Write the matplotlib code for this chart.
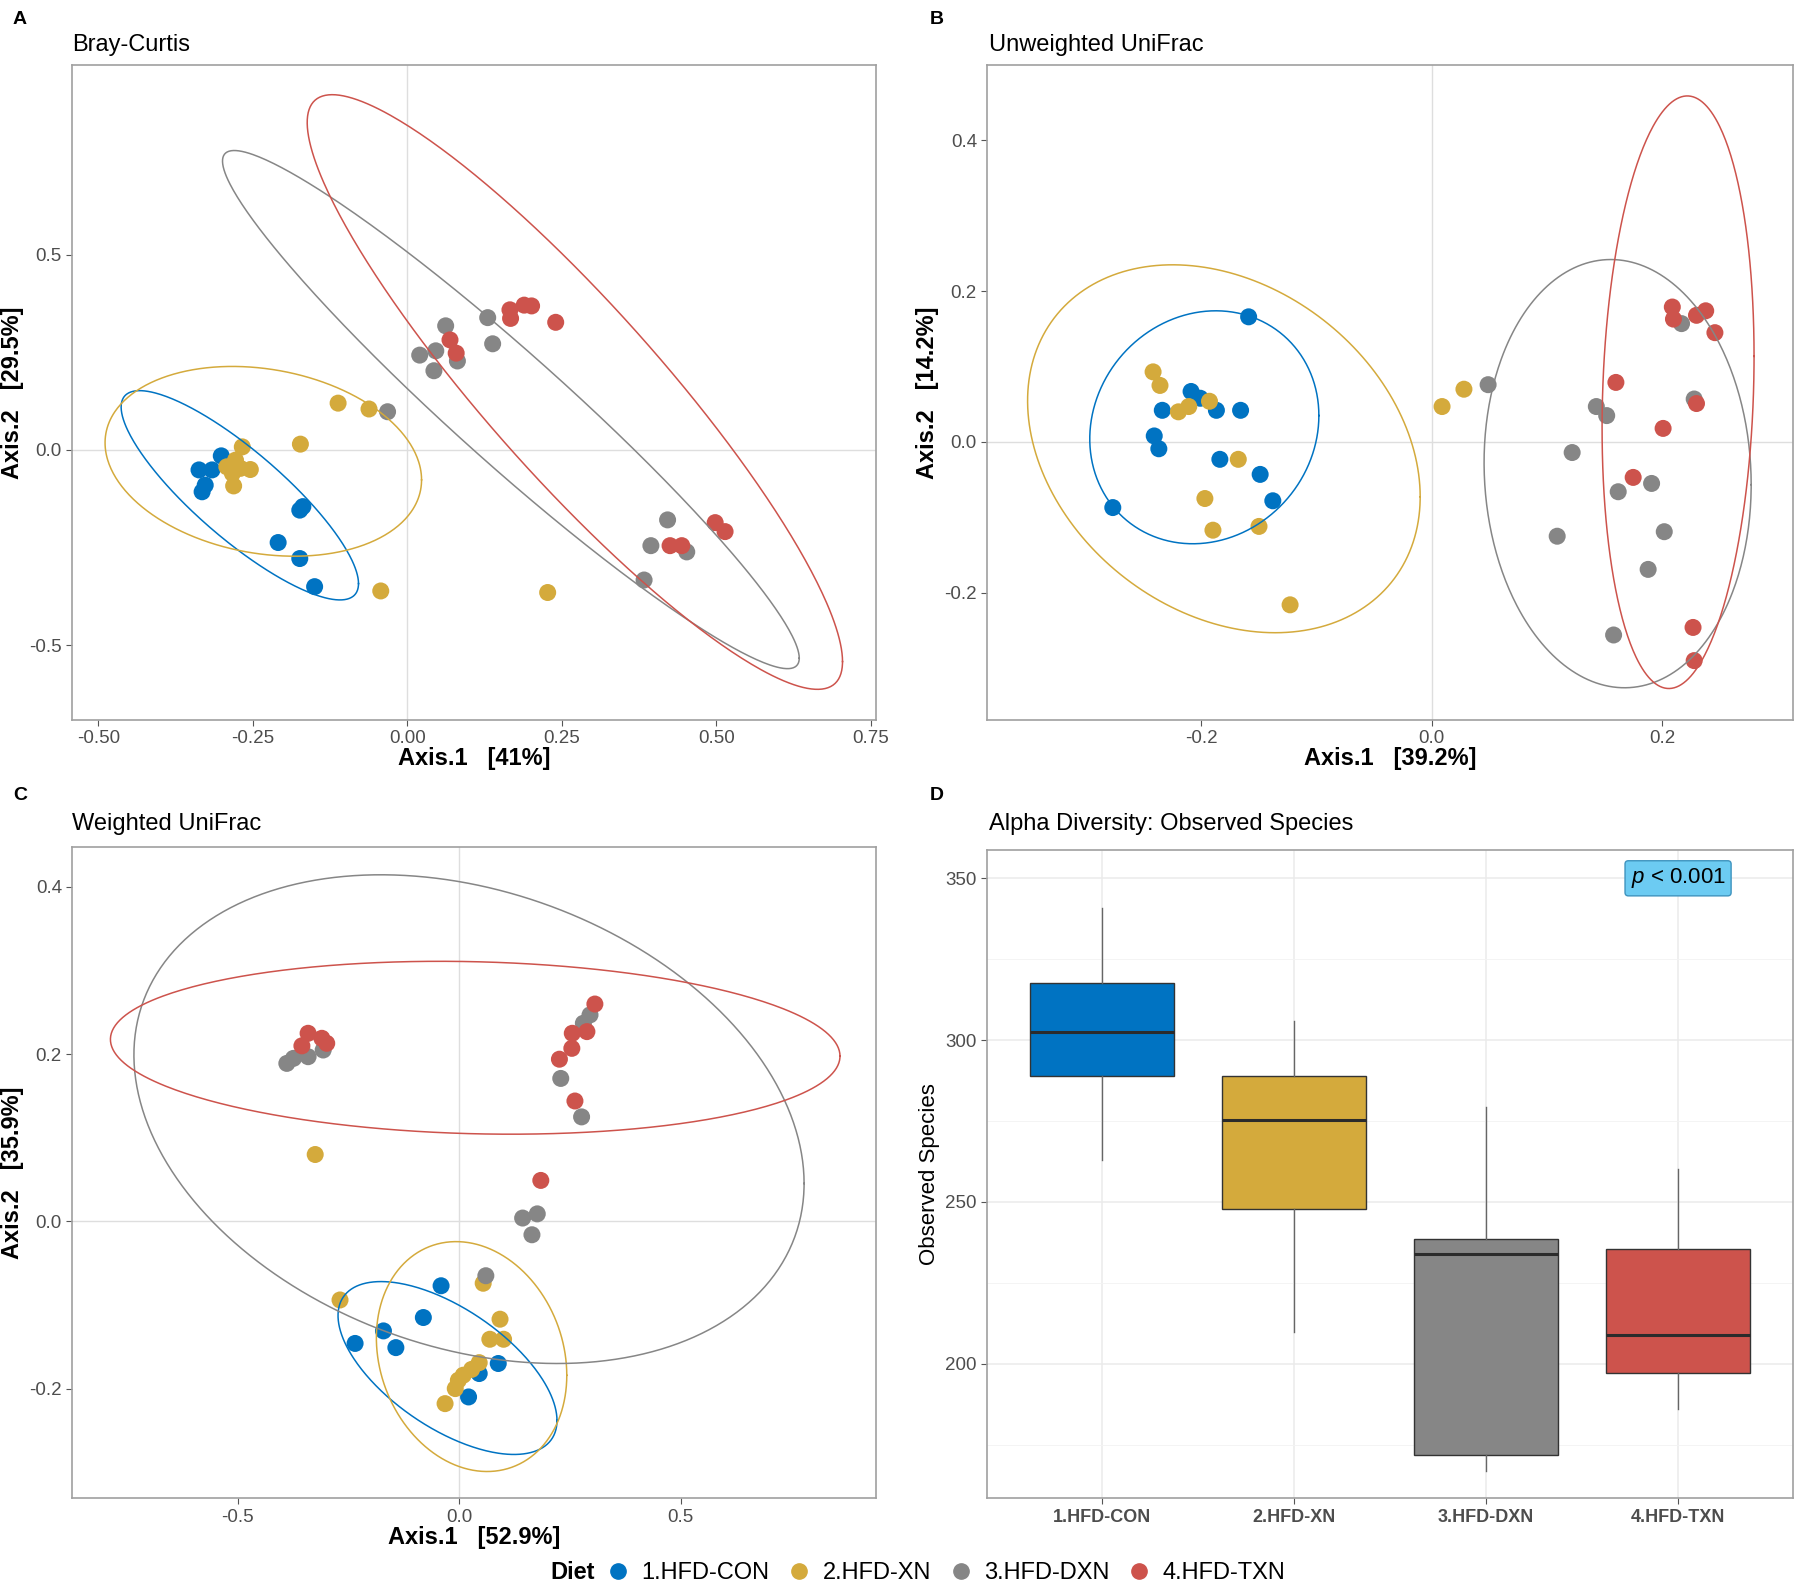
import numpy as np
import matplotlib.pyplot as plt
from matplotlib.lines import Line2D

plt.rcParams['font.family'] = ['Liberation Sans', 'DejaVu Sans']
plt.rcParams['axes.unicode_minus'] = False
plt.rcParams['mathtext.fontset'] = 'custom'
plt.rcParams['mathtext.it'] = 'Liberation Sans:italic'
plt.rcParams['mathtext.rm'] = 'Liberation Sans'

groups = ['1.HFD-CON', '2.HFD-XN', '3.HFD-DXN', '4.HFD-TXN']
colors = ['#0073C2', '#D4AA3C', '#868686', '#CD534C']

# --- A: Bray-Curtis PCoA ---
bc_x = [
    [-0.301, -0.337, -0.316, -0.327, -0.332, -0.174, -0.169, -0.209, -0.174, -0.150],
    [-0.112, -0.062, -0.173, -0.043, 0.227, -0.267, -0.278, -0.292, -0.270, -0.254, -0.281, -0.283],
    [-0.032, 0.062, 0.020, 0.046, 0.043, 0.081, 0.130, 0.138, 0.421, 0.394, 0.452, 0.383],
    [0.069, 0.079, 0.166, 0.167, 0.189, 0.201, 0.240, 0.425, 0.444, 0.498, 0.514],
]
bc_y = [
    [-0.015, -0.051, -0.051, -0.090, -0.107, -0.154, -0.145, -0.237, -0.278, -0.350],
    [0.120, 0.105, 0.015, -0.361, -0.365, 0.008, -0.026, -0.043, -0.047, -0.050, -0.092, -0.060],
    [0.098, 0.318, 0.243, 0.254, 0.203, 0.228, 0.339, 0.272, -0.179, -0.245, -0.261, -0.333],
    [0.282, 0.248, 0.359, 0.337, 0.371, 0.369, 0.327, -0.245, -0.245, -0.186, -0.209],
]
# ellipse: centre x, centre y, half width, half height, x offset of top point
bc_ell = [
    [-0.271, -0.116, 0.192, 0.268, -0.162],
    [-0.233, -0.029, 0.256, 0.243, -0.050],
    [0.1675, 0.1035, 0.4665, 0.6635, -0.4475],
    [0.271, 0.1485, 0.433, 0.7615, -0.3925],
]

# --- B: Unweighted UniFrac PCoA ---
uu_x = [
    [-0.159, -0.209, -0.201, -0.234, -0.187, -0.166, -0.241, -0.237, -0.184, -0.149, -0.138, -0.277],
    [-0.242, -0.236, -0.220, -0.211, -0.193, -0.168, -0.197, -0.190, -0.150, -0.123, 0.009, 0.028],
    [0.049, 0.143, 0.152, 0.122, 0.162, 0.191, 0.109, 0.202, 0.188, 0.158, 0.217, 0.228],
    [0.209, 0.210, 0.230, 0.238, 0.246, 0.160, 0.230, 0.201, 0.175, 0.227, 0.228],
]
uu_y = [
    [0.166, 0.067, 0.058, 0.042, 0.042, 0.042, 0.008, -0.009, -0.023, -0.043, -0.078, -0.087],
    [0.093, 0.075, 0.040, 0.047, 0.054, -0.023, -0.075, -0.117, -0.112, -0.216, 0.047, 0.070],
    [0.076, 0.047, 0.035, -0.014, -0.066, -0.055, -0.125, -0.119, -0.169, -0.256, 0.157, 0.057],
    [0.179, 0.163, 0.168, 0.174, 0.145, 0.079, 0.051, 0.018, -0.047, -0.246, -0.290],
]
uu_ell = [
    [-0.1975, 0.0195, 0.0995, 0.1545, 0.010],
    [-0.1805, -0.009, 0.1705, 0.244, -0.0445],
    [0.1615, -0.042, 0.116, 0.284, -0.006],
    [0.214, 0.066, 0.066, 0.393, 0.008],
]

# --- C: Weighted UniFrac PCoA ---
wu_x = [
    [-0.041, -0.081, -0.171, -0.235, -0.143, 0.088, 0.045, 0.021],
    [-0.325, -0.269, 0.054, 0.092, 0.069, 0.100, 0.045, 0.028, 0.009, -0.002, -0.009, -0.032],
    [-0.389, -0.374, -0.341, -0.307, 0.295, 0.280, 0.229, 0.276, 0.143, 0.176, 0.164, 0.060],
    [-0.341, -0.310, -0.299, -0.355, 0.306, 0.288, 0.255, 0.254, 0.226, 0.261, 0.184],
]
wu_y = [
    [-0.077, -0.115, -0.131, -0.146, -0.151, -0.170, -0.182, -0.210],
    [0.080, -0.094, -0.074, -0.117, -0.141, -0.141, -0.169, -0.177, -0.184, -0.190, -0.200, -0.218],
    [0.189, 0.195, 0.197, 0.205, 0.247, 0.237, 0.171, 0.125, 0.004, 0.009, -0.016, -0.065],
    [0.225, 0.219, 0.213, 0.210, 0.260, 0.227, 0.225, 0.207, 0.194, 0.144, 0.049],
]
wu_ell = [
    [-0.0265, -0.1754, 0.247, 0.1034, -0.150],
    [0.0278, -0.1617, 0.2148, 0.1375, -0.035],
    [0.022, 0.1223, 0.756, 0.2923, -0.199],
    [0.036, 0.2077, 0.823, 0.1034, -0.080],
]

# --- D: observed species boxplot ---
obs_whislo = [262.9, 209.9, 167.0, 186.0]
obs_q1 = [288.8, 247.9, 171.9, 197.1]
obs_med = [302.6, 275.2, 234.0, 209.0]
obs_q3 = [317.5, 289.0, 238.5, 235.4]
obs_whishi = [340.9, 306.0, 279.2, 260.3]

W, H = 1800, 1592
fig = plt.figure(figsize=(W / 100, H / 100), dpi=100)


def box(l, t, r, b):
    return [l / W, 1 - b / H, (r - l) / W, (b - t) / H]


def style(ax):
    for s in ax.spines.values():
        s.set_color('#A0A0A0')
        s.set_linewidth(1.2)
    ax.tick_params(length=4, width=0.8, color='#555555', labelcolor='#4D4D4D', labelsize=13.5)


def ellipse(ax, par, color):
    cx, cy, hw, hh, dx = par
    cov = np.array([[hw ** 2, dx * hh], [dx * hh, hh ** 2]])
    L = np.linalg.cholesky(cov)
    t = np.linspace(0, 2 * np.pi, 400)
    pts = L @ np.vstack([np.cos(t), np.sin(t)])
    ax.plot(cx + pts[0], cy + pts[1], color=color, lw=1.1, zorder=4)


def pcoa(ax, xs, ys, ells, xlim, ylim, xticks, yticks, fmt_x, fmt_y, xlab, ylab):
    ax.axhline(0, color='#DEDEDE', lw=1, zorder=0)
    ax.axvline(0, color='#DEDEDE', lw=1, zorder=0)
    for gx, gy, c in zip(xs, ys, colors):
        ax.scatter(gx, gy, s=150, color=c, edgecolors='none', zorder=3)
    for e, c in zip(ells, colors):
        ellipse(ax, e, c)
    ax.set_xlim(*xlim)
    ax.set_ylim(*ylim)
    ax.set_xticks(xticks)
    ax.set_xticklabels([fmt_x.format(v) for v in xticks])
    ax.set_yticks(yticks)
    ax.set_yticklabels([fmt_y.format(v) for v in yticks])
    style(ax)
    ax.set_xlabel(xlab, fontsize=17, fontweight='bold', labelpad=0)
    ax.set_ylabel(ylab, fontsize=17, fontweight='bold', labelpad=4)


axA = fig.add_axes(box(72.3, 65.4, 875.9, 719.8))
pcoa(axA, bc_x, bc_y, bc_ell, (-0.542, 0.758), (-0.691, 0.985),
     [-0.5, -0.25, 0, 0.25, 0.5, 0.75], [-0.5, 0, 0.5], '{:.2f}', '{:.1f}',
     'Axis.1   [41%]', 'Axis.2   [29.5%]')

axB = fig.add_axes(box(987.3, 65.4, 1793.2, 719.8))
pcoa(axB, uu_x, uu_y, uu_ell, (-0.386, 0.314), (-0.3685, 0.4995),
     [-0.2, 0, 0.2], [-0.2, 0, 0.2, 0.4], '{:.1f}', '{:.1f}',
     'Axis.1   [39.2%]', 'Axis.2   [14.2%]')

axC = fig.add_axes(box(72.3, 847.2, 875.9, 1498.1))
pcoa(axC, wu_x, wu_y, wu_ell, (-0.873, 0.940), (-0.331, 0.4476),
     [-0.5, 0, 0.5], [-0.2, 0, 0.2, 0.4], '{:.1f}', '{:.1f}',
     'Axis.1   [52.9%]', 'Axis.2   [35.9%]')

axD = fig.add_axes(box(987.3, 849.5, 1793.2, 1498.1))
stats = []
for i, g in enumerate(groups):
    stats.append(dict(label=g, whislo=obs_whislo[i], q1=obs_q1[i], med=obs_med[i],
                      q3=obs_q3[i], whishi=obs_whishi[i], fliers=[]))
pos = np.arange(len(groups))
bp = axD.bxp(stats, positions=pos, widths=0.75, patch_artist=True, showcaps=False,
             boxprops=dict(edgecolor='#333333', linewidth=1.0),
             medianprops=dict(color='#2B2B2B', linewidth=2.2),
             whiskerprops=dict(color='#666666', linewidth=1.0), zorder=3)
for patch, c in zip(bp['boxes'], colors):
    patch.set_facecolor(c)
axD.set_xlim(-0.6, 3.6)
axD.set_ylim(158.5, 358.9)
axD.set_yticks([200, 250, 300, 350])
axD.set_yticks([175, 225, 275, 325], minor=True)
axD.set_xticks(pos)
axD.set_xticklabels(groups, fontweight='bold')
axD.grid(which='major', color='#EBEBEB', lw=1.1)
axD.grid(which='minor', axis='y', color='#F3F3F3', lw=0.6)
axD.set_axisbelow(True)
style(axD)
axD.tick_params(which='minor', length=0)
axD.tick_params(axis='x', labelcolor='#4D4D4D', labelsize=13)
axD.set_ylabel('Observed Species', fontsize=16, labelpad=4)
axD.text(3.0, 350, '$p$ < 0.001', fontsize=16, ha='center', va='center', zorder=5,
         bbox=dict(boxstyle='round,pad=0.25,rounding_size=0.15', fc='#6CCBF2', ec='#3E93BE', lw=1))

# panel letters and titles
for lx, ly, s in [(20, 20, 'A'), (937, 20, 'B'), (20, 795, 'C'), (937, 795, 'D')]:
    fig.text(lx / W, 1 - ly / H, s, fontsize=14, fontweight='bold', ha='center', va='center')
for tx, ty, s in [(72.3, 45, 'Bray-Curtis'), (989, 45, 'Unweighted UniFrac'),
                  (72.3, 824, 'Weighted UniFrac'), (989, 824, 'Alpha Diversity: Observed Species')]:
    fig.text(tx / W, 1 - ty / H, s, fontsize=17, ha='left', va='center')

# legend
handles = [Line2D([], [], marker='o', ls='', ms=11, color=c) for c in colors]
fig.legend(handles, groups, loc='center', bbox_to_anchor=(0.5248, 1 - 1572.8 / H), ncol=4,
           frameon=False, fontsize=17, handletextpad=0.4, columnspacing=0.65, borderpad=0,
           handlelength=1.2)
fig.text(573 / W, 1 - 1572.8 / H, 'Diet', fontsize=17, fontweight='bold', ha='center', va='center')

fig.savefig('out.png', dpi=100)
